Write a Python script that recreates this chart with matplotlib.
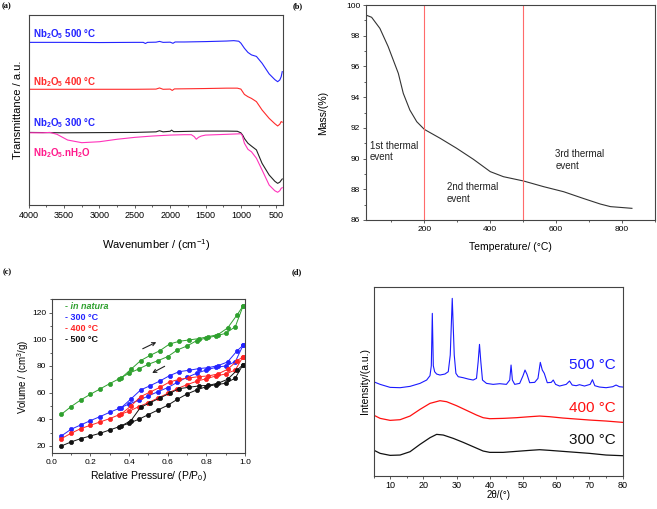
import matplotlib
matplotlib.use('Agg')
import matplotlib.pyplot as plt
from matplotlib.ticker import MultipleLocator

plt.rcParams['font.family'] = ['Liberation Sans', 'DejaVu Sans']
plt.rcParams['mathtext.fontset'] = 'custom'
plt.rcParams['mathtext.rm'] = 'Liberation Sans'
plt.rcParams['mathtext.it'] = 'Liberation Sans:italic'
plt.rcParams['mathtext.bf'] = 'Liberation Sans:bold'

# ---------------- (a) FTIR data ----------------
ir500_x = [4000, 3500, 3000, 2500, 2380, 2350, 2320, 2200, 2150, 2100, 2000, 1960, 1930, 1800, 1500,
           1200, 1100, 1030, 1000, 950, 900, 850, 780, 700, 600, 520, 480, 450, 430, 415]
ir500_y = [85.6, 85.6, 85.5, 85.6, 85.6, 85.0, 85.6, 85.7, 86.1, 85.6, 85.7, 85.1, 85.8, 85.8, 86.0,
           86.3, 86.5, 86.2, 85.2, 82.5, 80.3, 79.0, 78.2, 74.6, 69.0, 66.0, 64.9, 65.8, 67.5, 70.2]
ir400_x = [4000, 3000, 2500, 2200, 2150, 2100, 2000, 1970, 1940, 1700, 1500, 1200, 1050, 1000, 950,
           900, 850, 780, 700, 600, 520, 480, 450, 430, 415]
ir400_y = [60.9, 60.9, 60.9, 61.0, 61.6, 60.9, 61.0, 60.3, 61.1, 61.2, 61.3, 61.5, 61.5, 61.0, 58.2,
           57.0, 56.1, 54.4, 50.0, 45.6, 42.8, 41.6, 42.5, 43.9, 43.6]
ir300_x = [4000, 3500, 3000, 2500, 2200, 2150, 2100, 2000, 1980, 1950, 1700, 1500, 1200, 1050, 1000,
           970, 950, 900, 850, 780, 700, 600, 520, 480, 450, 430, 415]
ir300_y = [38.2, 38.0, 38.1, 38.2, 38.5, 39.1, 38.5, 38.8, 39.4, 38.6, 38.8, 38.9, 38.9, 38.8, 38.0,
           36.5, 35.0, 32.5, 31.0, 29.0, 21.9, 15.8, 12.5, 11.4, 12.0, 13.0, 13.7]
irhyd_x = [4000, 3800, 3700, 3600, 3450, 3250, 3000, 2750, 2500, 2250, 2000, 1800, 1700, 1660, 1630,
           1600, 1560, 1500, 1200, 1000, 980, 950, 900, 850, 780, 700, 600, 520, 480, 450, 430, 415]
irhyd_y = [38.0, 38.0, 38.2, 37.2, 34.2, 32.8, 33.3, 34.6, 35.6, 36.3, 36.8, 37.0, 37.0, 36.0, 34.6,
           35.6, 36.3, 36.8, 37.2, 37.5, 36.5, 32.5, 29.3, 28.0, 24.6, 18.4, 10.5, 7.5, 6.7, 7.5, 8.8, 9.1]
ir_labels = [r"Nb$_\mathbf{2}$O$_\mathbf{5}$ 500 °C", r"Nb$_\mathbf{2}$O$_\mathbf{5}$ 400 °C",
             r"Nb$_\mathbf{2}$O$_\mathbf{5}$ 300 °C", r"Nb$_\mathbf{2}$O$_\mathbf{5}$.nH$_\mathbf{2}$O"]

# ---------------- (b) TGA data ----------------
tga_T = [27, 40, 65, 90, 121, 136, 156, 177, 200, 248, 298, 349, 400, 440, 501, 562, 623, 683, 734, 765, 795, 830]
tga_m = [99.31, 99.2, 98.48, 97.3, 95.55, 94.25, 93.16, 92.4, 91.9, 91.32, 90.67, 89.95, 89.15, 88.82,
         88.54, 88.17, 87.84, 87.4, 87.04, 86.87, 86.82, 86.76]
event_T = [200, 500]
event_texts = ["1st thermal\nevent", "2nd thermal\nevent", "3rd thermal\nevent"]

# ---------------- (c) N2 isotherms ----------------
p_ads = [0.05, 0.10, 0.15, 0.20, 0.25, 0.30, 0.35, 0.40, 0.45, 0.50, 0.55, 0.60, 0.65, 0.70, 0.75,
         0.80, 0.85, 0.90, 0.95, 0.99]
p_des = [0.99, 0.96, 0.91, 0.86, 0.81, 0.76, 0.71, 0.66, 0.61, 0.56, 0.51, 0.46, 0.41, 0.36]
nat_ads = [43.75, 49.5, 54.5, 58.75, 62.75, 66.75, 70.5, 74.5, 77.75, 81.25, 84.0, 87.0, 92.0, 95.0,
           99.0, 101.0, 102.5, 104.5, 109.5, 125.0]
nat_des = [125.0, 118.5, 108.5, 103.5, 102.0, 100.5, 99.5, 98.5, 96.5, 91.5, 88.0, 84.0, 77.5, 71.0]
c300_ads = [27.5, 32.5, 35.75, 39.0, 42.0, 45.25, 48.25, 51.5, 54.25, 57.5, 60.75, 63.75, 67.75, 71.5,
            74.5, 77.0, 79.0, 80.0, 83.25, 95.5]
c300_des = [95.5, 91.5, 83.0, 80.25, 78.75, 78.0, 76.75, 75.75, 72.75, 68.75, 65.25, 62.0, 55.25, 48.75]
c400_ads = [25.5, 29.5, 33.0, 35.5, 38.0, 40.5, 43.5, 46.0, 49.5, 52.5, 56.0, 59.5, 63.0, 66.0, 68.5,
            70.5, 72.5, 74.0, 77.0, 87.0]
c400_des = [87.0, 84.0, 77.5, 74.0, 72.5, 72.0, 71.0, 70.0, 68.0, 64.0, 60.5, 57.0, 50.0, 44.0]
c500_ads = [20.0, 23.0, 25.5, 27.5, 29.5, 32.0, 34.5, 37.0, 40.0, 43.5, 47.0, 50.5, 55.0, 59.0, 62.0,
            64.5, 66.0, 67.0, 71.0, 81.0]
c500_des = [81.0, 77.0, 70.0, 67.0, 65.5, 65.0, 64.0, 63.0, 59.5, 56.0, 52.5, 49.0, 39.0, 35.0]
iso_labels = ["- in natura", "- 300 °C", "- 400 °C", "- 500 °C"]

# ---------------- (d) XRD ----------------
xrd500_x = [5, 7, 10, 13, 16, 19, 21, 22.0, 22.4, 22.7, 23.0, 23.4, 24, 25, 26.5, 27.5, 28.1, 28.7, 29.3,
            29.8, 30.5, 32, 33.5, 35, 36.0, 36.5, 36.9, 37.3, 37.8, 39, 41, 43, 45, 46.0, 46.4, 46.8, 47.5,
            49, 50.0, 50.6, 51.2, 52, 53.5, 54.5, 55.2, 55.8, 56.4, 57.3, 58.5, 59.1, 59.8, 61, 63, 64,
            64.8, 66, 67, 68.5, 70.2, 70.9, 71.6, 73, 75, 77, 78, 79, 80]
xrd500_y = [282, 274, 265, 264, 268, 277, 287, 300, 330, 487, 330, 312, 305, 302, 305, 312, 362, 532, 362,
            307, 297, 294, 290, 287, 292, 342, 394, 342, 287, 277, 274, 276, 274, 287, 332, 287, 274,
            277, 300, 317, 304, 279, 280, 292, 340, 317, 307, 279, 280, 287, 274, 269, 274, 284,
            272, 270, 273, 269, 274, 288, 270, 266, 264, 267, 272, 267, 266]
xrd400_x = [5, 7, 10, 13, 16, 19, 22, 25, 27, 30, 33, 36, 38, 40, 44, 48, 52, 55, 58, 62, 66, 70, 75, 80]
xrd400_y = [182, 172, 166, 168, 179, 199, 217, 225, 222, 210, 196, 182, 174, 171, 172, 174, 177, 179,
            177, 173, 170, 167, 164, 160]
xrd300_x = [5, 7, 10, 13, 16, 19, 22, 24, 26, 29, 32, 35, 38, 40, 44, 48, 52, 55, 58, 62, 66, 70, 75, 80]
xrd300_y = [77, 67, 61, 62, 72, 94, 114, 124, 122, 112, 100, 87, 74, 70, 70, 73, 76, 78, 76, 73, 70,
            67, 62, 60]
xrd_labels = ["500 °C", "400 °C", "300 °C"]

# ================= figure =================
W, H = 657, 509
fig = plt.figure(figsize=(W / 100, H / 100), dpi=100)
SPINE = '#444444'


def style(ax, fs):
    for s in ax.spines.values():
        s.set_color(SPINE)
        s.set_linewidth(0.8)
    ax.tick_params(which='major', direction='out', length=2.5, width=0.6, labelsize=fs,
                   color=SPINE, pad=1.5)
    ax.tick_params(which='minor', direction='out', length=1.5, width=0.6, color=SPINE)


def axes_px(l, t, r, b):
    return fig.add_axes([l / W, 1 - b / H, (r - l) / W, (b - t) / H])


# ---- (a)
axa = axes_px(28.7, 15, 283.3, 205)
BLUE = '#2323ff'
RED = '#ff2a2a'
PINK = '#ff33bb'
axa.plot(ir500_x, ir500_y, color=BLUE, lw=0.8)
axa.plot(ir400_x, ir400_y, color=RED, lw=0.8)
axa.plot(ir300_x, ir300_y, color='#222222', lw=0.8)
axa.plot(irhyd_x, irhyd_y, color=PINK, lw=0.8)
axa.set_xlim(4000, 400)
axa.set_ylim(0, 100)
axa.set_yticks([])
axa.xaxis.set_major_locator(MultipleLocator(500))
axa.xaxis.set_minor_locator(MultipleLocator(250))
style(axa, 6.5)
axa.set_xlabel(r"Wavenumber / (cm$^{-1}$)", fontsize=8)
axa.xaxis.set_label_coords(0.5, -0.17)
axa.set_ylabel("Transmittance / a.u.", fontsize=8)
axa.yaxis.set_label_coords(-0.021, 0.5)
for txt, yv, c in zip(ir_labels, [90.0, 64.7, 43.2, 27.4], [BLUE, RED, BLUE, '#ff1a8c']):
    axa.text(3935, yv, txt, color=c, fontsize=7, fontweight='bold', va='center', ha='left')

# ---- (b)
axb = axes_px(365.7, 5, 655, 220)
axb.plot(tga_T, tga_m, color='#333333', lw=0.8)
for t in event_T:
    axb.axvline(t, color='#ff6b6b', lw=0.8)
axb.set_xlim(22, 900)
axb.set_ylim(86, 100)
axb.xaxis.set_major_locator(MultipleLocator(200))
axb.xaxis.set_minor_locator(MultipleLocator(100))
axb.yaxis.set_major_locator(MultipleLocator(2))
axb.yaxis.set_minor_locator(MultipleLocator(1))
style(axb, 6)
axb.set_xlabel("Temperature/ (°C)", fontsize=7.5)
axb.xaxis.set_label_coords(0.5, -0.10)
axb.set_ylabel("Mass/(%)", fontsize=7.5)
axb.yaxis.set_label_coords(-0.13, 0.5)
for txt, (tx, ty) in zip(event_texts, [(35, 91.15), (268, 88.45), (597, 90.6)]):
    axb.text(tx, ty, txt, fontsize=7, va='top', ha='left', color='#222222', linespacing=1.15)

# ---- (c)
axc = axes_px(51.7, 299.3, 245, 453.3)
GREEN = '#2ea02e'
CBLUE = '#2424ff'
CRED = '#ff2424'
for ads, des, c in [(nat_ads, nat_des, GREEN), (c300_ads, c300_des, CBLUE),
                    (c400_ads, c400_des, CRED), (c500_ads, c500_des, '#111111')]:
    axc.plot(p_ads, ads, color=c, lw=0.7, marker='o', ms=3.0, mfc=c, mec=c, mew=0.5)
    axc.plot(p_des, des, color=c, lw=0.7, marker='o', ms=3.0, mfc=c, mec=c, mew=0.5)
axc.annotate("", xy=(0.554, 98.75), xytext=(0.458, 92.0),
             arrowprops=dict(arrowstyle='->', color='#222222', lw=0.8, mutation_scale=6))
axc.annotate("", xy=(0.507, 73.75), xytext=(0.597, 80.75),
             arrowprops=dict(arrowstyle='->', color='#222222', lw=0.8, mutation_scale=6))
axc.set_xlim(0.0, 1.0)
axc.set_ylim(14.5, 130)
axc.xaxis.set_major_locator(MultipleLocator(0.2))
axc.xaxis.set_minor_locator(MultipleLocator(0.1))
axc.yaxis.set_major_locator(MultipleLocator(20))
axc.yaxis.set_minor_locator(MultipleLocator(10))
axc.xaxis.set_major_formatter(matplotlib.ticker.FormatStrFormatter('%.1f'))
style(axc, 6)
axc.set_xlabel(r"Relative Pressure/ (P/P$_0$)", fontsize=7.5)
axc.xaxis.set_label_coords(0.5, -0.105)
axc.set_ylabel(r"Volume / (cm$^3$/g)", fontsize=7)
axc.yaxis.set_label_coords(-0.105, 0.5)
for txt, yv, c, st in zip(iso_labels, [124.3, 116.0, 107.8, 99.5],
                          [GREEN, CBLUE, CRED, '#111111'], ['italic', 'normal', 'normal', 'normal']):
    axc.text(0.07, yv, txt, color=c, fontsize=6.5, fontweight='bold', fontstyle=st,
             va='center', ha='left')

# ---- (d)
axd = axes_px(373.5, 286.7, 622.7, 475.7)
axd.plot(xrd500_x, xrd500_y, color='#1a1aff', lw=0.8)
axd.plot(xrd400_x, xrd400_y, color='#ff1010', lw=0.9)
axd.plot(xrd300_x, xrd300_y, color='#111111', lw=0.9)
axd.set_xlim(5, 80)
axd.set_ylim(0, 567)
axd.set_yticks([])
axd.xaxis.set_major_locator(MultipleLocator(10))
axd.xaxis.set_minor_locator(MultipleLocator(5))
style(axd, 6.5)
axd.set_xlabel("2θ/(°)", fontsize=7)
axd.xaxis.set_label_coords(0.5, -0.075)
axd.set_ylabel("Intensity/(a.u.)", fontsize=7.5)
axd.yaxis.set_label_coords(-0.014, 0.5)
for txt, yv, c in zip(xrd_labels, [332, 203, 107], ['#1a1aff', '#ff1010', '#111111']):
    axd.text(78, yv, txt, color=c, fontsize=11, va='center', ha='right')

# panel labels
for lab, x, y in [("(a)", 2, 2), ("(b)", 293, 2), ("(c)", 3, 268), ("(d)", 292, 268)]:
    fig.text(x / W, 1 - y / H, lab, fontsize=6, fontweight='bold', family='Liberation Serif',
             ha='left', va='top')

fig.savefig('out.png', dpi=100)
